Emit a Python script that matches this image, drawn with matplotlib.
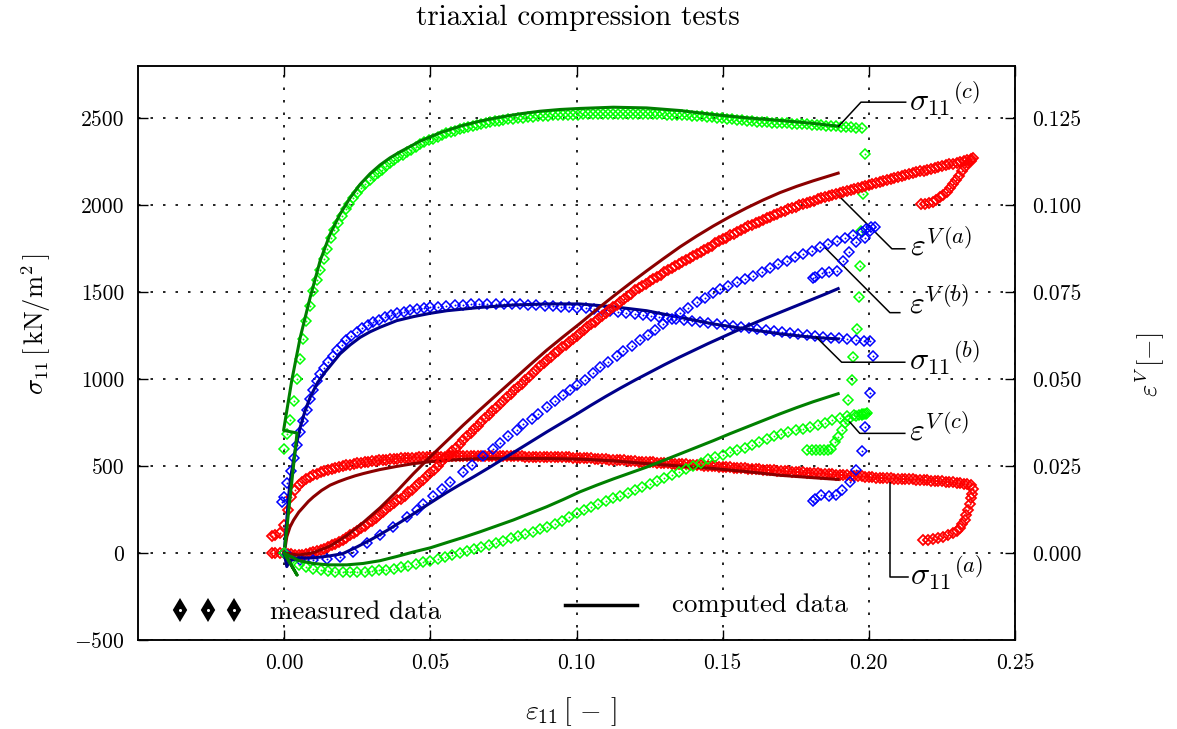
import numpy as np
import matplotlib
matplotlib.use("Agg")
import matplotlib.pyplot as plt

plt.rcParams['font.family'] = 'serif'
plt.rcParams['font.serif'] = ['cmr10', 'DejaVu Serif']
plt.rcParams['mathtext.fontset'] = 'cm'
plt.rcParams['axes.formatter.use_mathtext'] = True
plt.rcParams['axes.unicode_minus'] = True

# ---------------- data ----------------
# test (a): red  -- measured (read on two interleaved strain grids)
red_x = [0.0000, 0.0025, 0.0050, 0.0075, 0.0100, 0.0125, 0.0150, 0.0175, 0.0200, 0.0225,
         0.0250, 0.0275, 0.0300, 0.0325, 0.0350, 0.0375, 0.0400, 0.0425, 0.0450, 0.0475,
         0.0500, 0.0525, 0.0550, 0.0575, 0.0600, 0.0625, 0.0650, 0.0675, 0.0700, 0.0725,
         0.0750, 0.0775, 0.0800, 0.0825, 0.0850, 0.0875, 0.0900, 0.0925, 0.0950, 0.0975,
         0.1000, 0.1025, 0.1050, 0.1075, 0.1100, 0.1125, 0.1150, 0.1175, 0.1200, 0.1225,
         0.1250, 0.1275, 0.1300, 0.1325, 0.1350, 0.1375, 0.1400, 0.1425, 0.1450, 0.1475,
         0.1500, 0.1525, 0.1550, 0.1575, 0.1600, 0.1625, 0.1650, 0.1675, 0.1700, 0.1725,
         0.1750, 0.1775, 0.1800, 0.1825, 0.1850, 0.1875, 0.1900, 0.1925, 0.1950, 0.1975,
         0.2000, 0.2025, 0.2050, 0.2075, 0.2100, 0.2125, 0.2150, 0.2175, 0.2200, 0.2225,
         0.2250, 0.2275, 0.2300, 0.2325, 0.2350]
red_sig = [160, 320, 390, 428, 449, 465, 478, 490, 500, 508,
           515, 521, 527, 532, 537, 541, 544, 547, 549, 551,
           552, 553, 554, 555, 556, 556, 556, 556, 556, 556,
           556, 556, 555, 554, 553, 552, 552, 551, 550, 550,
           549, 547, 544, 541, 538, 536, 533, 530, 528, 525,
           522, 520, 517, 514, 512, 509, 507, 504, 502, 499,
           496, 493, 490, 487, 484, 481, 478, 475, 472, 470,
           467, 464, 461, 458, 455, 452, 449, 446, 443, 440,
           437, 434, 431, 429, 427, 425, 423, 420, 418, 415,
           412, 408, 404, 399, 390]
red_eps = [0.0000, -0.0004, -0.0006, -0.0003, 0.0002, 0.0009, 0.0017, 0.0027, 0.0038, 0.0051,
           0.0064, 0.0078, 0.0093, 0.0109, 0.0126, 0.0143, 0.0156, 0.0174, 0.0192, 0.0211,
           0.0230, 0.0251, 0.0272, 0.0293, 0.0314, 0.0335, 0.0356, 0.0377, 0.0398, 0.0418,
           0.0438, 0.0458, 0.0478, 0.0497, 0.0517, 0.0537, 0.0555, 0.0574, 0.0591, 0.0608,
           0.0624, 0.0641, 0.0657, 0.0673, 0.0690, 0.0707, 0.0723, 0.0739, 0.0755, 0.0768,
           0.0781, 0.0794, 0.0807, 0.0819, 0.0831, 0.0843, 0.0855, 0.0866, 0.0878, 0.0890,
           0.0902, 0.0913, 0.0924, 0.0934, 0.0944, 0.0953, 0.0962, 0.0971, 0.0980, 0.0988,
           0.0996, 0.1003, 0.1010, 0.1017, 0.1023, 0.1029, 0.1035, 0.1041, 0.1047, 0.1053,
           0.1059, 0.1065, 0.1070, 0.1076, 0.1081, 0.1087, 0.1092, 0.1097, 0.1102, 0.1107,
           0.1112, 0.1117, 0.1122, 0.1127, 0.1132]
red_x_mid = [0.00125, 0.00375, 0.00625, 0.00875, 0.01125, 0.01375, 0.01625, 0.01875, 0.02125, 0.02375,
             0.02625, 0.02875, 0.03125, 0.03375, 0.03625, 0.03875, 0.04125, 0.04375, 0.04625, 0.04875,
             0.05125, 0.05375, 0.05625, 0.05875, 0.06125, 0.06375, 0.06625, 0.06875, 0.07125, 0.07375,
             0.07625, 0.07875, 0.08125, 0.08375, 0.08625, 0.08875, 0.09125, 0.09375, 0.09625, 0.09875,
             0.10125, 0.10375, 0.10625, 0.10875, 0.11125, 0.11375, 0.11625, 0.11875, 0.12125, 0.12375,
             0.12625, 0.12875, 0.13125, 0.13375, 0.13625, 0.13875, 0.14125, 0.14375, 0.14625, 0.14875,
             0.15125, 0.15375, 0.15625, 0.15875, 0.16125, 0.16375, 0.16625, 0.16875, 0.17125, 0.17375,
             0.17625, 0.17875, 0.18125, 0.18375, 0.18625, 0.18875, 0.19125, 0.19375, 0.19625, 0.19875,
             0.20125, 0.20375, 0.20625, 0.20875, 0.21125, 0.21375, 0.21625, 0.21875, 0.22125, 0.22375,
             0.22625, 0.22875, 0.23125, 0.23375]
red_sig_mid = [250, 360, 411, 439, 457, 472, 484, 495, 504, 512,
               518, 524, 530, 535, 539, 543, 546, 548, 550, 552,
               553, 554, 555, 555, 556, 557, 556, 557, 556, 556,
               556, 555, 555, 553, 553, 552, 551, 551, 550, 549,
               548, 546, 543, 540, 537, 534, 532, 529, 526, 524,
               521, 518, 516, 513, 510, 508, 505, 503, 500, 497,
               494, 491, 489, 485, 482, 480, 476, 474, 471, 468,
               465, 462, 460, 456, 454, 450, 448, 444, 442, 438,
               435, 432, 430, 428, 426, 424, 421, 419, 416, 414,
               410, 406, 402, 395]
red_eps_mid = [-0.0002, -0.0005, -0.0005, -0.0001, 0.0005, 0.0013, 0.0022, 0.0032, 0.0044, 0.0057,
               0.0071, 0.0085, 0.0101, 0.0117, 0.0134, 0.0152, 0.0164, 0.0182, 0.0201, 0.0220,
               0.0240, 0.0261, 0.0282, 0.0303, 0.0324, 0.0345, 0.0366, 0.0387, 0.0408, 0.0428,
               0.0448, 0.0468, 0.0487, 0.0507, 0.0527, 0.0546, 0.0564, 0.0582, 0.0599, 0.0616,
               0.0632, 0.0649, 0.0665, 0.0681, 0.0698, 0.0714, 0.0730, 0.0746, 0.0761, 0.0774,
               0.0787, 0.0800, 0.0813, 0.0825, 0.0837, 0.0849, 0.0860, 0.0872, 0.0884, 0.0896,
               0.0907, 0.0918, 0.0929, 0.0939, 0.0948, 0.0957, 0.0966, 0.0975, 0.0984, 0.0992,
               0.0999, 0.1006, 0.1013, 0.1020, 0.1026, 0.1032, 0.1038, 0.1044, 0.1050, 0.1056,
               0.1062, 0.1067, 0.1073, 0.1078, 0.1084, 0.1089, 0.1094, 0.1099, 0.1104, 0.1109,
               0.1114, 0.1119, 0.1124, 0.1129]
red_start_x = [-0.0040, -0.0030, -0.0015]
red_start_sig = [100, 104, 115]
red_start_eps = [0.0, 0.0, 0.0]
red_sig_hook_x = [0.2356, 0.2354, 0.2351, 0.2346, 0.2340, 0.2334, 0.2328, 0.2320, 0.2311,
                  0.2300, 0.2288, 0.2270, 0.2254, 0.2237, 0.2220, 0.2203, 0.2186]
red_sig_hook = [370, 340, 314, 280, 247, 218, 189, 165, 142, 125, 113, 102, 93, 85, 79, 76, 75]
red_eps_hook_x = [0.2356, 0.2348, 0.2338, 0.2328, 0.2318, 0.2308, 0.2298, 0.2288, 0.2277,
                  0.2266, 0.2255, 0.2243, 0.2230, 0.2218, 0.2205, 0.2192, 0.2180]
red_eps_hook = [0.1135, 0.1128, 0.1120, 0.1110, 0.1098, 0.1085, 0.1072, 0.1060, 0.1049,
                0.1039, 0.1030, 0.1022, 0.1015, 0.1009, 0.1005, 0.1003, 0.1003]

# test (b): blue -- measured
blue_sig_x = [-0.0008, 0.0000, 0.0011, 0.0022, 0.0033, 0.0044, 0.0055, 0.0066, 0.0077, 0.0088,
              0.0100, 0.0112, 0.0124, 0.0137, 0.0151, 0.0166, 0.0181, 0.0197, 0.0213, 0.0230,
              0.0248, 0.0267, 0.0286, 0.0305, 0.0325, 0.0345, 0.0366, 0.0387, 0.0409, 0.0431,
              0.0454, 0.0477, 0.0500, 0.0527, 0.0555, 0.0583, 0.0611, 0.0639, 0.0667, 0.0695,
              0.0723, 0.0751, 0.0779, 0.0807, 0.0835, 0.0863, 0.0891, 0.0919, 0.0947, 0.0975,
              0.1003, 0.1031, 0.1059, 0.1087, 0.1115, 0.1143, 0.1171, 0.1199, 0.1227, 0.1255,
              0.1283, 0.1311, 0.1339, 0.1367, 0.1395, 0.1423, 0.1451, 0.1479, 0.1507, 0.1535,
              0.1563, 0.1591, 0.1619, 0.1647, 0.1675, 0.1703, 0.1731, 0.1759, 0.1787, 0.1815,
              0.1843, 0.1871, 0.1899, 0.1927, 0.1955, 0.1983, 0.2003,
              0.2014, 0.2003, 0.1987, 0.1976, 0.1955, 0.1935, 0.1907, 0.1889, 0.1864, 0.1838,
              0.1815, 0.1809]
blue_sig = [294, 323, 400, 470, 545, 620, 695, 760, 825, 885,
            940, 990, 1030, 1065, 1100, 1135, 1168, 1198, 1225, 1250,
            1272, 1292, 1310, 1327, 1342, 1355, 1367, 1378, 1387, 1395,
            1402, 1408, 1413, 1417, 1421, 1424, 1427, 1429, 1431, 1432,
            1432, 1432, 1432, 1430, 1428, 1425, 1422, 1419, 1416, 1413,
            1410, 1406, 1401, 1396, 1390, 1384, 1378, 1372, 1367, 1362,
            1357, 1352, 1347, 1341, 1335, 1329, 1323, 1318, 1312, 1306,
            1299, 1293, 1287, 1281, 1276, 1270, 1265, 1259, 1254, 1249,
            1244, 1239, 1234, 1230, 1226, 1221, 1217,
            1135, 919, 724, 587, 480, 409, 365, 333, 327, 333,
            308, 300]
blue_eps_x = [0.0000, 0.0010, 0.0021, 0.0055, 0.0100, 0.0146, 0.0191, 0.0237, 0.0283, 0.0328,
              0.0374, 0.0419, 0.0454, 0.0476, 0.0510, 0.0539, 0.0568, 0.0613, 0.0642, 0.0681,
              0.0716, 0.0738, 0.0767, 0.0796, 0.0818, 0.0847, 0.0869, 0.0898, 0.0926, 0.0953,
              0.0978, 0.1001, 0.1029, 0.1057, 0.1080, 0.1109, 0.1137, 0.1160, 0.1189, 0.1217,
              0.1245, 0.1268, 0.1297, 0.1325, 0.1354, 0.1382, 0.1411, 0.1439, 0.1468, 0.1491,
              0.1519, 0.1548, 0.1576, 0.1604, 0.1633, 0.1662, 0.1690, 0.1719, 0.1747, 0.1775,
              0.1804, 0.1832, 0.1861, 0.1890, 0.1918, 0.1946, 0.1975, 0.1992, 0.2009, 0.2021,
              0.2003, 0.1986, 0.1955, 0.1933, 0.1912, 0.1890, 0.1865, 0.1839, 0.1816, 0.1810]
blue_eps = [0.0000, -0.0006, -0.0011, -0.0020, -0.0020, -0.0018, -0.0011, 0.0004, 0.0028, 0.0052,
            0.0075, 0.0104, 0.0124, 0.0140, 0.0165, 0.0185, 0.0205, 0.0234, 0.0254, 0.0279,
            0.0300, 0.0316, 0.0336, 0.0354, 0.0370, 0.0386, 0.0401, 0.0419, 0.0436, 0.0454,
            0.0469, 0.0482, 0.0498, 0.0518, 0.0534, 0.0550, 0.0567, 0.0582, 0.0596, 0.0613,
            0.0626, 0.0641, 0.0658, 0.0673, 0.0690, 0.0705, 0.0721, 0.0734, 0.0748, 0.0758,
            0.0768, 0.0778, 0.0788, 0.0797, 0.0807, 0.0820, 0.0830, 0.0840, 0.0850, 0.0859,
            0.0869, 0.0880, 0.0888, 0.0896, 0.0906, 0.0914, 0.0922, 0.0931, 0.0936, 0.0936,
            0.0925, 0.0907, 0.0893, 0.0866, 0.0840, 0.0811, 0.0807, 0.0804, 0.0794, 0.0790]

# test (c): green -- measured
green_sig_x = [-0.0002, 0.0009, 0.0021, 0.0034, 0.0043, 0.0053, 0.0063, 0.0076, 0.0088,
               0.0100, 0.0112, 0.0124, 0.0136, 0.0148, 0.0160, 0.0172, 0.0184, 0.0197, 0.0210,
               0.0223, 0.0236, 0.0250, 0.0264, 0.0278, 0.0292, 0.0306, 0.0320, 0.0334, 0.0348,
               0.0362, 0.0376, 0.0390, 0.0405, 0.0420, 0.0435, 0.0450, 0.0465, 0.0480, 0.0495,
               0.0510, 0.0525, 0.0540, 0.0555, 0.0570, 0.0585, 0.0600, 0.0615, 0.0630, 0.0645,
               0.0660, 0.0675, 0.0690, 0.0705, 0.0720, 0.0735, 0.0750, 0.0767, 0.0784, 0.0801,
               0.0818, 0.0835, 0.0852, 0.0869, 0.0886, 0.0903, 0.0920, 0.0937, 0.0954, 0.0971,
               0.0988, 0.1005, 0.1022, 0.1039, 0.1056, 0.1073, 0.1090, 0.1107, 0.1124, 0.1141,
               0.1158, 0.1175, 0.1192, 0.1209, 0.1226, 0.1243, 0.1260, 0.1277, 0.1294, 0.1311,
               0.1328, 0.1345, 0.1362, 0.1379, 0.1396, 0.1413, 0.1430, 0.1447, 0.1464, 0.1481,
               0.1498, 0.1515, 0.1532, 0.1549, 0.1566, 0.1583, 0.1600, 0.1617, 0.1634, 0.1651,
               0.1668, 0.1685, 0.1702, 0.1719, 0.1736, 0.1753, 0.1770, 0.1787, 0.1804, 0.1821,
               0.1838, 0.1855, 0.1872, 0.1889, 0.1906, 0.1923, 0.1940, 0.1957, 0.1975,
               0.1986, 0.1981, 0.1972, 0.1969, 0.1967, 0.1958, 0.1946, 0.1941, 0.1929, 0.1929,
               0.1918, 0.1908, 0.1896, 0.1884, 0.1872, 0.1860, 0.1846, 0.1832, 0.1818, 0.1804,
               0.1790]
green_sig = [600, 686, 763, 872, 1000, 1116, 1231, 1336, 1422,
             1508, 1570, 1628, 1690, 1750, 1810, 1855, 1895, 1935, 1975,
             2008, 2040, 2070, 2098, 2120, 2147, 2168, 2187, 2204, 2224,
             2244, 2260, 2275, 2290, 2304, 2318, 2334, 2349, 2361, 2372,
             2383, 2394, 2404, 2413, 2421, 2429, 2438, 2444, 2451, 2457,
             2463, 2468, 2473, 2478, 2482, 2486, 2490, 2494, 2498, 2501,
             2503, 2506, 2508, 2510, 2512, 2514, 2516, 2517, 2518, 2519,
             2520, 2521, 2522, 2523, 2524, 2524, 2525, 2525, 2525, 2525,
             2525, 2525, 2525, 2525, 2525, 2524, 2523, 2522, 2522, 2521,
             2521, 2520, 2519, 2517, 2515, 2513, 2511, 2508, 2506, 2503,
             2500, 2497, 2494, 2491, 2489, 2486, 2483, 2480, 2478, 2476,
             2474, 2473, 2471, 2470, 2468, 2467, 2466, 2465, 2463, 2461,
             2459, 2457, 2455, 2453, 2451, 2449, 2447, 2444, 2441,
             2295, 2066, 1852, 1651, 1470, 1288, 1126, 996, 877, 763,
             745, 705, 667, 638, 600, 590, 590, 590, 590, 590,
             590]
green_eps_x = [0.0000, 0.0025, 0.0050, 0.0075, 0.0100, 0.0125, 0.0150, 0.0175, 0.0200, 0.0225,
               0.0250, 0.0275, 0.0300, 0.0325, 0.0350, 0.0375, 0.0400, 0.0425, 0.0450, 0.0475,
               0.0500, 0.0525, 0.0550, 0.0575, 0.0600, 0.0625, 0.0650, 0.0675, 0.0700, 0.0725,
               0.0750, 0.0775, 0.0800, 0.0825, 0.0850, 0.0875, 0.0900, 0.0925, 0.0950, 0.0975,
               0.1000, 0.1025, 0.1050, 0.1075, 0.1100, 0.1125, 0.1150, 0.1175, 0.1200, 0.1225,
               0.1250, 0.1275, 0.1300, 0.1325, 0.1350, 0.1375, 0.1400, 0.1425, 0.1450, 0.1475,
               0.1500, 0.1525, 0.1550, 0.1575, 0.1600, 0.1625, 0.1650, 0.1675, 0.1700, 0.1725,
               0.1750, 0.1775, 0.1800, 0.1825, 0.1850, 0.1875, 0.1900, 0.1925, 0.1950, 0.1975,
               0.1990, 0.1995, 0.1985, 0.1975, 0.1965, 0.1955]
green_eps = [0.0000, -0.0020, -0.0033, -0.0041, -0.0046, -0.0050, -0.0053, -0.0054, -0.0055, -0.0055,
             -0.0055, -0.0054, -0.0052, -0.0050, -0.0048, -0.0045, -0.0041, -0.0037, -0.0032, -0.0027,
             -0.0022, -0.0017, -0.0011, -0.0005, 0.0001, 0.0006, 0.0012, 0.0018, 0.0024, 0.0030,
             0.0036, 0.0042, 0.0048, 0.0054, 0.0061, 0.0068, 0.0076, 0.0084, 0.0093, 0.0103,
             0.0114, 0.0125, 0.0133, 0.0141, 0.0149, 0.0157, 0.0165, 0.0173, 0.0181, 0.0189,
             0.0197, 0.0206, 0.0215, 0.0224, 0.0233, 0.0242, 0.0251, 0.0260, 0.0269, 0.0277,
             0.0283, 0.0290, 0.0296, 0.0303, 0.0311, 0.0319, 0.0327, 0.0335, 0.0343, 0.0348,
             0.0353, 0.0357, 0.0361, 0.0367, 0.0375, 0.0382, 0.0389, 0.0393, 0.0396, 0.0398,
             0.0400, 0.0402, 0.0401, 0.0399, 0.0397, 0.0395]

# computed curves
comp_red_sig_x = [0.0, 0.0005, 0.0009, 0.0020, 0.0032, 0.0050, 0.0066, 0.0083, 0.0100, 0.0128,
                  0.0157, 0.0185, 0.0214, 0.0243, 0.0271, 0.0300, 0.0328, 0.0385, 0.0442, 0.0499,
                  0.0556, 0.0613, 0.0670, 0.0727, 0.0784, 0.0898, 0.1012, 0.1126, 0.1240, 0.1354,
                  0.1468, 0.1582, 0.1696, 0.1810, 0.1895]
comp_red_sig = [0, 50, 94, 150, 189, 235, 265, 297, 323, 360,
                390, 410, 428, 444, 457, 469, 480, 498, 514, 525,
                533, 539, 543, 544, 543, 543, 540, 530, 514, 500,
                486, 468, 447, 433, 423]
comp_red_eps_x = [0.0, 0.0050, 0.0100, 0.0157, 0.0214, 0.0271, 0.0328, 0.0385, 0.0442, 0.0499,
                  0.0556, 0.0613, 0.0670, 0.0727, 0.0784, 0.0841, 0.0898, 0.0955, 0.1012, 0.1069,
                  0.1126, 0.1183, 0.1240, 0.1297, 0.1354, 0.1411, 0.1468, 0.1525, 0.1582, 0.1639,
                  0.1696, 0.1753, 0.1810, 0.1895]
comp_red_eps = [0.0, -0.0006, 0.0001, 0.0020, 0.0050, 0.0088, 0.0130, 0.0177, 0.0228, 0.0276,
                0.0322, 0.0368, 0.0412, 0.0455, 0.0498, 0.0541, 0.0583, 0.0622, 0.0660, 0.0700,
                0.0738, 0.0775, 0.0811, 0.0846, 0.0880, 0.0911, 0.0940, 0.0967, 0.0992, 0.1015,
                0.1036, 0.1054, 0.1070, 0.1092]
comp_blue_sig_x = [0.0, 0.0007, 0.0015, 0.0021, 0.0030, 0.0040, 0.0055, 0.0072, 0.0089, 0.0112,
                   0.0135, 0.0157, 0.0191, 0.0226, 0.0260, 0.0294, 0.0328, 0.0385, 0.0442, 0.0499,
                   0.0556, 0.0670, 0.0784, 0.0898, 0.1012, 0.1126, 0.1240, 0.1354, 0.1468, 0.1582,
                   0.1696, 0.1810, 0.1895]
comp_blue_sig = [0, 150, 323, 419, 514, 610, 724, 820, 896, 973,
                 1030, 1075, 1145, 1197, 1240, 1272, 1298, 1336, 1359, 1378,
                 1393, 1412, 1426, 1432, 1432, 1416, 1393, 1355, 1317, 1288,
                 1260, 1240, 1231]
comp_blue_eps_x = [0.0, 0.0009, 0.0020, 0.0050, 0.0100, 0.0150, 0.0200, 0.0250, 0.0300, 0.0350,
                   0.0400, 0.0450, 0.0500, 0.0556, 0.0600, 0.0650, 0.0700, 0.0750, 0.0800, 0.0850,
                   0.0900, 0.0950, 0.1000, 0.1050, 0.1100, 0.1150, 0.1200, 0.1250, 0.1300, 0.1350,
                   0.1400, 0.1450, 0.1500, 0.1550, 0.1600, 0.1650, 0.1700, 0.1750, 0.1800, 0.1850,
                   0.1895]
comp_blue_eps = [0.0, -0.0039, -0.0022, -0.0014, -0.0014, -0.0009, -0.0002, 0.0018, 0.0040, 0.0064,
                 0.0090, 0.0117, 0.0144, 0.0174, 0.0196, 0.0220, 0.0245, 0.0271, 0.0297, 0.0323,
                 0.0349, 0.0374, 0.0399, 0.0425, 0.0450, 0.0474, 0.0497, 0.0519, 0.0541, 0.0562,
                 0.0582, 0.0602, 0.0621, 0.0640, 0.0658, 0.0676, 0.0693, 0.0710, 0.0727, 0.0744,
                 0.0760]
comp_green_sig_x = [0.0, 0.0044, -0.0002, 0.0026, 0.0055, 0.0089, 0.0123, 0.0157, 0.0191, 0.0226,
                    0.0260, 0.0294, 0.0328, 0.0362, 0.0397, 0.0465, 0.0533, 0.0602, 0.0670, 0.0738,
                    0.0807, 0.0875, 0.0944, 0.1012, 0.1126, 0.1240, 0.1354, 0.1468, 0.1582, 0.1696,
                    0.1810, 0.1895]
comp_green_sig = [0, 690, 705, 992, 1240, 1470, 1680, 1833, 1948, 2043,
                  2120, 2181, 2231, 2272, 2307, 2368, 2416, 2454, 2483, 2506,
                  2525, 2540, 2550, 2556, 2563, 2559, 2544, 2521, 2502, 2487,
                  2470, 2454]
comp_green_eps_x = [0.0, 0.0044, 0.0, 0.0050, 0.0100, 0.0150, 0.0214, 0.0270, 0.0328, 0.0385,
                    0.0442, 0.0500, 0.0556, 0.0613, 0.0670, 0.0727, 0.0784, 0.0841, 0.0898, 0.0955,
                    0.1012, 0.1069, 0.1126, 0.1183, 0.1240, 0.1297, 0.1354, 0.1411, 0.1468, 0.1525,
                    0.1582, 0.1639, 0.1696, 0.1753, 0.1810, 0.1895]
comp_green_eps = [0.0, -0.0063, 0.0, -0.0022, -0.0030, -0.0034, -0.0034, -0.0030, -0.0022, -0.0010,
                  0.0003, 0.0015, 0.0030, 0.0045, 0.0061, 0.0078, 0.0095, 0.0114, 0.0133, 0.0154,
                  0.0176, 0.0195, 0.0213, 0.0230, 0.0247, 0.0266, 0.0285, 0.0304, 0.0323, 0.0343,
                  0.0362, 0.0381, 0.0400, 0.0418, 0.0435, 0.0458]

x_ticks = [0.00, 0.05, 0.10, 0.15, 0.20, 0.25]
sig_ticks = [-500, 0, 500, 1000, 1500, 2000, 2500]
eps_ticks = [0.000, 0.025, 0.050, 0.075, 0.100, 0.125]

# ---------------- figure ----------------
W, H = 1177, 729
fig = plt.figure(figsize=(W / 100, H / 100), dpi=100)
ax = fig.add_axes([138 / W, 89 / H, 877 / W, 574 / H])
ax2 = ax.twinx()

ax.set_xlim(-0.05, 0.25)
ax.set_ylim(-500, 2800)
ax2.set_ylim(-0.025, 0.14)

C_R, C_B, C_G = '#ff0000', '#0000ff', '#00ff00'
D_R, D_B, D_G = '#8b0000', '#00008b', '#008000'
mk = dict(linestyle='none', marker='D', ms=4.8, mfc='none', mew=1.1)
dot = dict(linestyle='none', marker='o', ms=1.4, mew=0)


def measured(a, xs, ys, c, **kw):
    style = dict(mk)
    style.update(kw)
    a.plot(xs, ys, color=c, **style)
    a.plot(xs, ys, color=c, **dot)


measured(ax, red_start_x + red_x + red_x_mid + red_sig_hook_x,
         red_start_sig + red_sig + red_sig_mid + red_sig_hook, C_R, mew=1.3)
measured(ax, blue_sig_x, blue_sig, C_B)
measured(ax, green_sig_x, green_sig, C_G)
ax.plot(comp_red_sig_x, comp_red_sig, color=D_R, lw=2.2, zorder=5)
ax.plot(comp_blue_sig_x, comp_blue_sig, color=D_B, lw=2.2, zorder=5)
ax.plot(comp_green_sig_x, comp_green_sig, color=D_G, lw=2.2, zorder=5)

measured(ax2, red_start_x + red_x + red_x_mid + red_eps_hook_x,
         red_start_eps + red_eps + red_eps_mid + red_eps_hook, C_R, mew=1.3)
measured(ax2, blue_eps_x, blue_eps, C_B)
measured(ax2, green_eps_x, green_eps, C_G)
ax2.plot(comp_red_eps_x, comp_red_eps, color=D_R, lw=2.2, zorder=5)
ax2.plot(comp_blue_eps_x, comp_blue_eps, color=D_B, lw=2.2, zorder=5)
ax2.plot(comp_green_eps_x, comp_green_eps, color=D_G, lw=2.2, zorder=5)

# ticks & grid
ax.set_xticks(x_ticks)
ax.set_xticklabels([f'{v:.2f}' for v in x_ticks])
ax.set_yticks(sig_ticks)
ax.set_yticklabels([f'{v}' if v >= 0 else r'$-$' + f'{-v}' for v in sig_ticks])
ax2.set_yticks(eps_ticks)
ax2.set_yticklabels([f'{v:.3f}' for v in eps_ticks])
ax.tick_params(direction='in', length=7, width=1.0, top=True, right=False,
               labelsize=15.5, pad=10)
ax2.tick_params(direction='in', length=7, width=1.0, labelsize=15.5, pad=12)
ax.grid(True, color='black', linestyle=(0, (1.5, 6)), linewidth=1.2)
for a in (ax, ax2):
    for s in a.spines.values():
        s.set_linewidth(1.1)

# labels
fig.text(578 / W, 1 - 18 / H, 'triaxial compression tests', ha='center', va='center', fontsize=21)
fig.text(571 / W, 1 - 712 / H, r'$\varepsilon_{11}\,[\,-\,]$', ha='center', va='center', fontsize=20)
fig.text(36 / W, 1 - 324 / H, r'$\sigma_{11}\,[\,\mathrm{kN/m^2}\,]$', ha='center', va='center',
         rotation=90, fontsize=19)
fig.text(1150 / W, 1 - 365 / H, r'$\varepsilon^{V}\,[-]$', ha='center', va='center',
         rotation=90, fontsize=19)

# annotation leaders
lk = dict(color='black', lw=1.1, zorder=6)
ax.plot([0.1897, 0.1973, 0.2126], [2454, 2592, 2592], **lk)
ax.plot([0.1891, 0.2079, 0.2123], [2064, 1749, 1749], **lk)
ax.plot([0.1850, 0.2072, 0.2106], [1756, 1382, 1382], **lk)
ax.plot([0.1821, 0.1907, 0.2123], [1240, 1097, 1097], **lk)
ax.plot([0.1935, 0.1969, 0.2123], [753, 688, 688], **lk)
ax.plot([0.2072, 0.2072, 0.2133], [401, -138, -138], **lk)
tk = dict(fontsize=23, ha='left', va='center', zorder=7)
ax.text(0.2136, 2610, r'${\sigma_{11}}^{(c)}$', **tk)
ax.text(0.2140, 1775, r'$\varepsilon^{V\,(a)}$', **tk)
ax.text(0.2136, 1440, r'$\varepsilon^{V\,(b)}$', **tk)
ax.text(0.2136, 1125, r'${\sigma_{11}}^{(b)}$', **tk)
ax.text(0.2136, 710, r'$\varepsilon^{V\,(c)}$', **tk)
ax.text(0.2140, -110, r'${\sigma_{11}}^{(a)}$', **tk)

# key
key_x = [-0.0356, -0.0260, -0.0171]
ax.plot(key_x, [-327] * 3, linestyle='none', marker='d',
        ms=10, mfc='black', mec='black', mew=1.5, zorder=7)
ax.plot(key_x, [-327] * 3, linestyle='none', marker='o',
        ms=2.2, mfc='white', mew=0, zorder=8)
ax.text(-0.0048, -338, 'measured data', fontsize=19.3, ha='left', va='center')
ax.plot([0.0961, 0.1207], [-298, -298], color='black', lw=2.5, zorder=7)
ax.text(0.1326, -298, 'computed data', fontsize=19.3, ha='left', va='center')

fig.savefig('out.png', dpi=100)
